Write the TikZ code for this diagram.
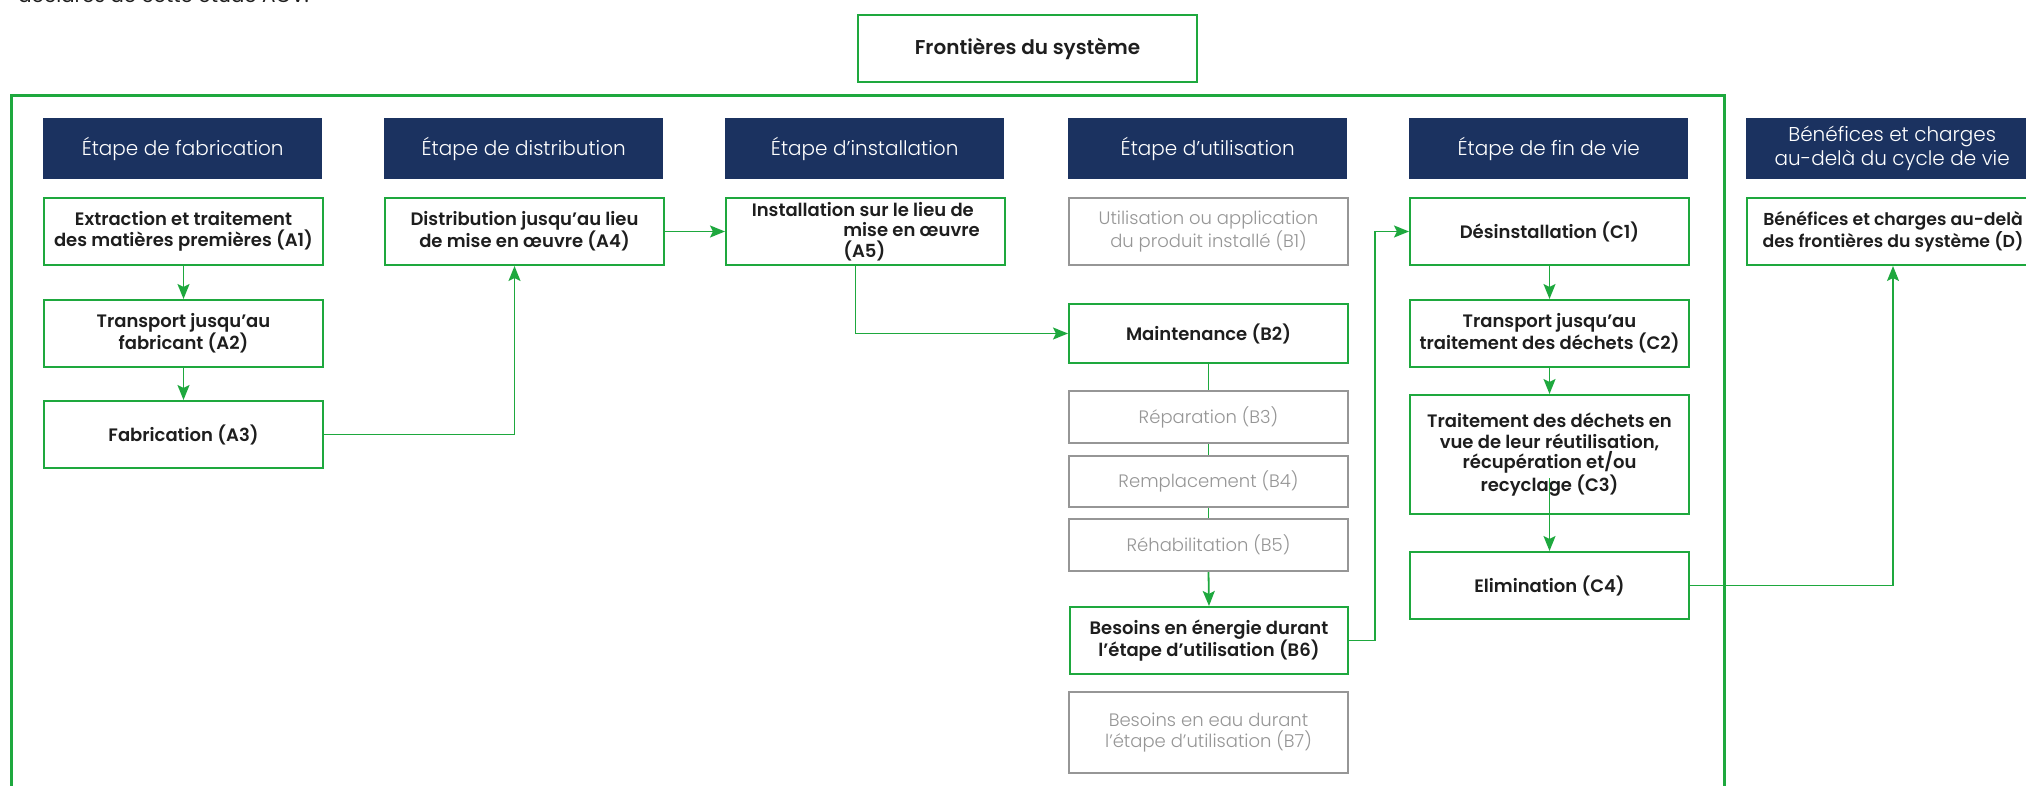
\documentclass[tikz,border=0pt]{standalone}
\usepackage{fontspec}
\setmainfont{Poppins}
\newfontfamily\lightf{Poppins Light}
\newfontfamily\semif{Poppins SemiBold}
\usetikzlibrary{arrows.meta}
\definecolor{grn}{RGB}{30,168,62}
\definecolor{navy}{RGB}{27,50,96}
\definecolor{gbord}{RGB}{150,150,150}
\definecolor{gtext}{RGB}{150,150,150}
\definecolor{dtext}{RGB}{30,30,30}
\begin{document}
\begin{tikzpicture}[x=1pt,y=-1pt,
  hdr/.style={fill=navy,text=white,minimum width=279pt,minimum height=61pt,inner sep=0pt,align=center,font=\lightf\fontsize{20}{24}\selectfont,anchor=north west},
  gbox/.style={draw=grn,line width=2pt,fill=white,minimum width=279pt,inner sep=0pt,align=center,text=dtext,font=\semif\fontsize{18}{20.5}\selectfont,anchor=north west},
  ybox/.style={draw=gbord,line width=2pt,fill=white,minimum width=279pt,inner sep=0pt,align=center,text=gtext,font=\lightf\fontsize{18}{20.5}\selectfont,anchor=north west},
  arr/.style={draw=grn,line width=1.8pt,-{Stealth[length=15pt,width=12pt,inset=3pt]}},
  ln/.style={draw=grn,line width=1.8pt},
]
\useasboundingbox (0,0) rectangle (2026,786);
\clip (0,0) rectangle (2026,786);

\node[anchor=base west,font=\fontsize{20}{24}\selectfont,text=dtext,inner sep=0pt] (toptxt) at (18,3) {déclarés de cette étude ACV.};

\draw[grn,line width=3pt] (11,96) rectangle (1724,800);

\node[gbox,minimum width=339pt,minimum height=67pt,font=\semif\fontsize{20}{23}\selectfont] (front) at (857,14) {Frontières du système};

\node[hdr] (h1) at (43,118) {Étape de fabrication};
\node[hdr] (h2) at (384,118) {Étape de distribution};
\node[hdr] (h3) at (725,118) {Étape d’installation};
\node[hdr] (h4) at (1068,118) {Étape d’utilisation};
\node[hdr] (h5) at (1409,118) {Étape de fin de vie};
\node[hdr,minimum width=292pt] (h6) at (1746,118) {Bénéfices et charges\\au-delà du cycle de vie};

\node[gbox,minimum height=67pt] (a1) at (43,197) {Extraction et traitement\\des matières premières (A1)};
\node[gbox,minimum height=67pt] (a2) at (43,299) {Transport jusqu’au\\fabricant (A2)};
\node[gbox,minimum height=67pt] (a3) at (43,400) {Fabrication (A3)};
\node[gbox,minimum height=67pt] (a4) at (384,197) {Distribution jusqu’au lieu\\de mise en œuvre (A4)};
\node[gbox,minimum height=67pt,align=left] (a5) at (725,197) {\makebox[223pt][c]{Installation sur le lieu de}\\\hspace*{92pt}mise en œuvre\\\hspace*{92pt}(A5)};

\node[ybox,minimum height=67pt] (b1) at (1068,197) {Utilisation ou application\\du produit installé (B1)};
\node[gbox,minimum height=59pt] (b2) at (1068,303) {Maintenance (B2)};
\node[ybox,minimum height=52pt] (b3) at (1068,390) {Réparation (B3)};
\node[ybox,minimum height=51pt] (b4) at (1068,455) {Remplacement (B4)};
\node[ybox,minimum height=52pt] (b5) at (1068,518) {Réhabilitation (B5)};
\node[gbox,minimum height=67pt,minimum width=278pt] (b6) at (1069,606) {Besoins en énergie durant\\l’étape d’utilisation (B6)};
\node[ybox,minimum height=81pt] (b7) at (1068,691) {Besoins en eau durant\\l’étape d’utilisation (B7)};

\node[gbox,minimum height=67pt] (c1) at (1409,197) {Désinstallation (C1)};
\node[gbox,minimum height=67pt] (c2) at (1409,299) {Transport jusqu’au\\traitement des déchets (C2)};
\node[gbox,minimum height=119pt] (c3) at (1409,394) {Traitement des déchets en\\vue de leur réutilisation,\\récupération et/ou\\recyclage (C3)};
\node[gbox,minimum height=67pt] (c4) at (1409,551) {Elimination (C4)};

\node[gbox,minimum height=67pt,minimum width=292pt,font=\semif\fontsize{17.3}{20.5}\selectfont] (d) at (1746,197) {Bénéfices et charges au-delà\\des frontières du système (D)};

\coordinate (a4in) at ([xshift=-10pt]a4.south);
\coordinate (a5out) at ([xshift=-10pt]a5.south);
\coordinate (jb) at (1375,0);
\coordinate (c3in) at ([yshift=37pt]c3.south);

\draw[arr] (a1.south) -- (a2.north);
\draw[arr] (a2.south) -- (a3.north);
\draw[arr] (a3.east) -| (a4in);
\draw[arr] (a4.east) -- (a5.west);
\draw[arr] (a5out) |- (b2.west);
\draw[ln] (b2.south) -- (b3.north);
\draw[ln] (b3.south) -- (b4.north);
\draw[ln] (b4.south) -- (b5.north);
\draw[arr] (b5.south) -- (b6.north);
\draw[arr] (b6.east) -- (b6.east -| jb) |- (c1.west);
\draw[arr] (c1.south) -- (c2.north);
\draw[arr] (c2.south) -- (c3.north);
\draw[arr] (c3in) -- (c4.north);
\draw[arr] (c4.east) -| (d.south);
\end{tikzpicture}
\end{document}
